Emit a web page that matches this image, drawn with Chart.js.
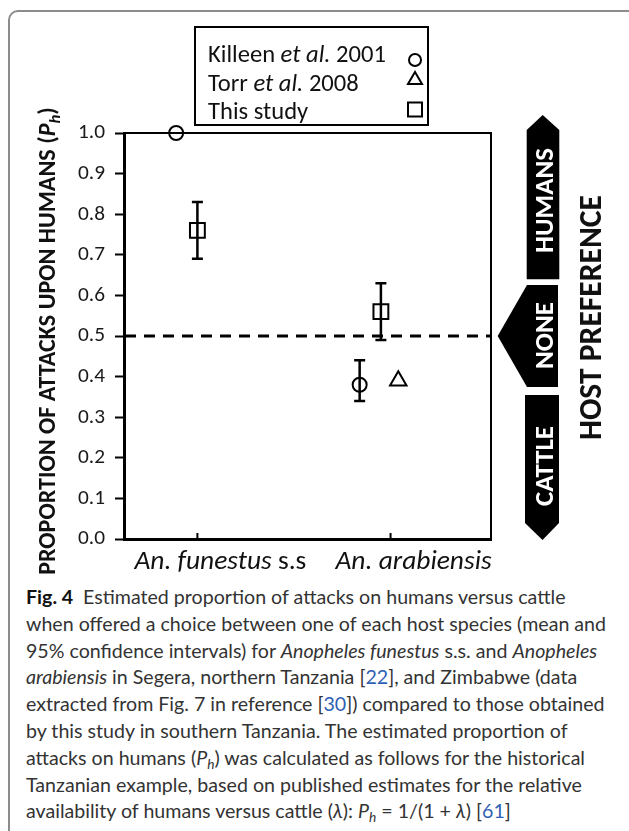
<!DOCTYPE html>
<html>
<head>
<meta charset="utf-8">
<script src="https://cdn.jsdelivr.net/npm/chart.js@4.4.1/dist/chart.umd.min.js"></script>
<style>
  html, body { margin: 0; padding: 0; background: #fff; width: 629px; height: 831px; overflow: hidden; }
  #frame { position: absolute; left: 8px; top: 10px; width: 700px; height: 900px; border: 2px solid #8c8c8c; border-radius: 10px; box-sizing: border-box; }
  #chartBox { position: absolute; left: 0; top: 0; width: 629px; height: 580px; }
  #caption { position: absolute; left: 26px; top: 584px; font-family: Lato, 'Open Sans', sans-serif; font-size: 18px; line-height: 26.8px; color: #333; white-space: nowrap; }
  #caption .ln { display: block; }
  #caption b { color: #111; }
  #caption .r { color: #2f5fb3; }
  #caption sub { font-size: 0.7em; vertical-align: -0.3em; line-height: 0; }
</style>
</head>
<body>
<div id="frame"></div>
<div id="chartBox"><canvas id="chart" width="629" height="580"></canvas></div>
<div id="caption">
  <span class="ln"><b>Fig. 4</b>&ensp;Estimated proportion of attacks on humans versus cattle</span>
  <span class="ln" id="wideLine">when offered a choice between one of each host species (mean and</span>
  <span class="ln">95% confidence intervals) for <i>Anopheles funestus</i> s.s. and <i>Anopheles</i></span>
  <span class="ln"><i>arabiensis</i> in Segera, northern Tanzania [<span class="r">22</span>], and Zimbabwe (data</span>
  <span class="ln">extracted from Fig. 7 in reference [<span class="r">30</span>]) compared to those obtained</span>
  <span class="ln">by this study in southern Tanzania. The estimated proportion of</span>
  <span class="ln">attacks on humans (<i>P<sub>h</sub></i>) was calculated as follows for the historical</span>
  <span class="ln">Tanzanian example, based on published estimates for the relative</span>
  <span class="ln">availability of humans versus cattle (<i>λ</i>): <i>P<sub>h</sub></i> = 1/(1 + <i>λ</i>) [<span class="r">61</span>]</span>
</div>
<script>
// values
const categoryX = [1, 2]
const categoryLabels = [
  [['An. funestus ', 'italic'], ['s.s', 'normal']],
  [['An. arabiensis', 'italic']]
]
const yTickLabels = ['0.0', '0.1', '0.2', '0.3', '0.4', '0.5', '0.6', '0.7', '0.8', '0.9', '1.0']

const killeenX = [0.89, 1.84]
const killeenY = [1.0, 0.38]
const killeenLow = [null, 0.34]
const killeenHigh = [null, 0.44]

const torrX = [2.04]
const torrY = [0.39]

const studyX = [1.0, 1.95]
const studyY = [0.76, 0.56]
const studyLow = [0.69, 0.49]
const studyHigh = [0.83, 0.63]

const noPreferenceLevel = 0.5

const legendLabels = [
  [['Killeen ', 'normal'], ['et al.', 'italic'], [' 2001', 'normal']],
  [['Torr ', 'normal'], ['et al.', 'italic'], [' 2008', 'normal']],
  [['This study', 'normal']]
]
const legendStyles = ['circle', 'triangle', 'rect']
const preferenceLabels = ['HUMANS', 'NONE', 'CATTLE']
const preferenceTitle = 'HOST PREFERENCE'
const yTitleRuns = [
  ['PROPORTION OF ATTACKS UPON HUMANS (', 'normal', false],
  ['P', 'italic', false],
  ['h', 'italic', true],
  [')', 'normal', false]
]

const FAMILY = "Carlito, 'Open Sans', sans-serif"
const measureCtx = document.createElement('canvas').getContext('2d')

function runFont(style, weight, size) {
  return `${style} ${weight} ${size}px ${FAMILY}`
}

function runsWidth(runs, weight, size) {
  let w = 0
  runs.forEach(r => {
    const s = r[2] ? size * 0.7 : size
    measureCtx.font = runFont(r[1], weight, s)
    w += measureCtx.measureText(r[0]).width
  })
  return w
}

// pick a size so the text spans the same length as in the picture
function fitSize(runs, weight, target) {
  return 20 * target / runsWidth(runs, weight, 20)
}

function drawRuns(ctx, runs, weight, size, x, y) {
  let cx = x
  runs.forEach(r => {
    const s = r[2] ? size * 0.7 : size
    ctx.font = runFont(r[1], weight, s)
    ctx.fillText(r[0], cx, r[2] ? y + size * 0.22 : y)
    cx += ctx.measureText(r[0]).width
  })
}

const tickSize = fitSize([['0.9', 'normal']], 'normal', 27)

function drawErrorBars(ctx, xs, lows, highs, xs_, ys_) {
  ctx.save()
  ctx.strokeStyle = '#000'
  ctx.lineWidth = 2.5
  xs.forEach((x, i) => {
    if (lows[i] == null) return
    const px = xs_.getPixelForValue(x)
    const y1 = ys_.getPixelForValue(lows[i])
    const y2 = ys_.getPixelForValue(highs[i])
    ctx.beginPath()
    ctx.moveTo(px, y1); ctx.lineTo(px, y2)
    ctx.moveTo(px - 5.5, y1); ctx.lineTo(px + 5.5, y1)
    ctx.moveTo(px - 5.5, y2); ctx.lineTo(px + 5.5, y2)
    ctx.stroke()
  })
  ctx.restore()
}

function drawSymbol(ctx, style, x, y) {
  ctx.beginPath()
  if (style === 'circle') {
    ctx.arc(x, y, 6, 0, Math.PI * 2)
  } else if (style === 'triangle') {
    ctx.moveTo(x, y - 7); ctx.lineTo(x + 7, y + 5); ctx.lineTo(x - 7, y + 5); ctx.closePath()
  } else {
    ctx.rect(x - 7, y - 7, 14, 14)
  }
  ctx.stroke()
}

const decorPlugin = {
  id: 'decor',
  afterDatasetsDraw(chart) {
    const ctx = chart.ctx
    const area = chart.chartArea
    const xs = chart.scales.x
    const ys = chart.scales.y

    ctx.save()
    ctx.strokeStyle = '#000'

    // top and right frame of the plot
    ctx.lineWidth = 2
    ctx.beginPath()
    ctx.moveTo(area.left, area.top); ctx.lineTo(area.right, area.top); ctx.lineTo(area.right, area.bottom)
    ctx.stroke()

    // no-preference line
    const y50 = ys.getPixelForValue(noPreferenceLevel)
    ctx.lineWidth = 3
    ctx.setLineDash([11, 8])
    ctx.beginPath()
    ctx.moveTo(area.left + 1, y50); ctx.lineTo(area.right, y50)
    ctx.stroke()
    ctx.setLineDash([])

    // category ticks, pointing inward
    ctx.lineWidth = 2
    categoryX.forEach(v => {
      const px = xs.getPixelForValue(v)
      ctx.beginPath(); ctx.moveTo(px, area.bottom); ctx.lineTo(px, area.bottom - 6); ctx.stroke()
    })

    drawErrorBars(ctx, killeenX, killeenLow, killeenHigh, xs, ys)
    drawErrorBars(ctx, studyX, studyLow, studyHigh, xs, ys)

    // category labels
    ctx.fillStyle = '#111'
    ctx.textBaseline = 'alphabetic'
    ctx.textAlign = 'left'
    const catSize = fitSize(categoryLabels[0], 'normal', 172)
    categoryLabels.forEach((runs, i) => {
      const w = runsWidth(runs, 'normal', catSize)
      const cx = xs.getPixelForValue(categoryX[i]) + 23
      drawRuns(ctx, runs, 'normal', catSize, cx - w / 2, 569)
    })

    // y title
    const tSize = fitSize(yTitleRuns, 'bold', 468)
    ctx.save()
    ctx.translate(47, 341)
    ctx.rotate(-Math.PI / 2)
    drawRuns(ctx, yTitleRuns, 'bold', tSize, -runsWidth(yTitleRuns, 'bold', tSize) / 2, tSize * 0.33)
    ctx.restore()

    // legend box
    ctx.lineWidth = 2
    ctx.strokeStyle = '#000'
    ctx.fillStyle = '#fff'
    ctx.fillRect(195, 27, 233, 98)
    ctx.strokeRect(195, 27, 233, 98)
    ctx.fillStyle = '#111'
    const legSize = fitSize(legendLabels[0], 'normal', 178)
    const legBase = [61.5, 90.5, 118.5]
    legendLabels.forEach((runs, i) => {
      drawRuns(ctx, runs, 'normal', legSize, 208, legBase[i])
    })
    ctx.lineWidth = 2
    const symY = [60, 79, 109.5]
    legendStyles.forEach((st, i) => drawSymbol(ctx, st, 415, symY[i]))

    // host preference arrows
    ctx.fillStyle = '#000'
    ctx.beginPath()
    ctx.moveTo(542.7, 115); ctx.lineTo(559.3, 130); ctx.lineTo(559.3, 279.3); ctx.lineTo(526.7, 279.3); ctx.lineTo(526.7, 130); ctx.closePath()
    ctx.fill()
    ctx.beginPath()
    ctx.moveTo(527, 285); ctx.lineTo(558, 285); ctx.lineTo(558, 387); ctx.lineTo(527, 387); ctx.lineTo(497.7, y50); ctx.closePath()
    ctx.fill()
    ctx.beginPath()
    ctx.moveTo(525, 395); ctx.lineTo(559, 395); ctx.lineTo(559, 523); ctx.lineTo(542.5, 540); ctx.lineTo(525, 523); ctx.closePath()
    ctx.fill()

    const labSize = fitSize([[preferenceLabels[0], 'normal']], 'bold', 105)
    const labCenters = [200.5, 335.5, 466]
    ctx.fillStyle = '#fff'
    preferenceLabels.forEach((t, i) => {
      const w = runsWidth([[t, 'normal']], 'bold', labSize)
      ctx.save()
      ctx.translate(544, labCenters[i])
      ctx.rotate(-Math.PI / 2)
      drawRuns(ctx, [[t, 'normal']], 'bold', labSize, -w / 2, labSize * 0.33)
      ctx.restore()
    })

    const hSize = fitSize([[preferenceTitle, 'normal']], 'bold', 245)
    ctx.fillStyle = '#111'
    ctx.save()
    ctx.translate(591, 317.5)
    ctx.rotate(-Math.PI / 2)
    drawRuns(ctx, [[preferenceTitle, 'normal']], 'bold', hSize, -runsWidth([[preferenceTitle, 'normal']], 'bold', hSize) / 2, hSize * 0.33)
    ctx.restore()

    ctx.restore()
  }
}

const markerBase = {
  borderColor: '#000',
  backgroundColor: 'rgba(0,0,0,0)',
  borderWidth: 2,
  pointBorderWidth: 2,
  clip: false
}

new Chart(document.getElementById('chart'), {
  type: 'scatter',
  data: {
    datasets: [
      { ...markerBase, label: 'Killeen et al. 2001', data: killeenX.map((x, i) => ({ x, y: killeenY[i] })), pointStyle: 'circle', pointRadius: 7 },
      { ...markerBase, label: 'Torr et al. 2008', data: torrX.map((x, i) => ({ x, y: torrY[i] })), pointStyle: 'triangle', pointRadius: 9.5 },
      { ...markerBase, label: 'This study', data: studyX.map((x, i) => ({ x, y: studyY[i] })), pointStyle: 'rect', pointRadius: 10.5 }
    ]
  },
  options: {
    responsive: false,
    animation: false,
    devicePixelRatio: 1,
    events: [],
    layout: { padding: { left: 0, top: 133, right: 138, bottom: 0 } },
    plugins: { legend: { display: false }, tooltip: { enabled: false } },
    scales: {
      x: {
        type: 'linear',
        min: 0.62,
        max: 2.52,
        afterBuildTicks: s => { s.ticks = categoryX.map(v => ({ value: v })) },
        afterFit: s => { s.height = 41 },
        ticks: { display: false },
        grid: { display: false },
        border: { color: '#000', width: 3 }
      },
      y: {
        min: 0,
        max: 1,
        afterFit: s => { s.width = 124 },
        ticks: {
          stepSize: 0.1,
          callback: (v, i) => yTickLabels[i],
          font: { family: FAMILY, size: tickSize },
          color: '#1a1a1a',
          padding: 10
        },
        grid: { drawOnChartArea: false, tickLength: 9, tickColor: '#000', tickWidth: 2 },
        border: { color: '#000', width: 3 }
      }
    }
  },
  plugins: [decorPlugin]
})

// size the caption so its widest line spans what it does in the figure
const wide = document.getElementById('wideLine')
wide.style.display = 'inline-block'
const cap = document.getElementById('caption')
const w0 = wide.getBoundingClientRect().width
cap.style.fontSize = (18 * 580 / w0).toFixed(2) + 'px'
wide.style.display = 'block'
</script>
</body>
</html>
